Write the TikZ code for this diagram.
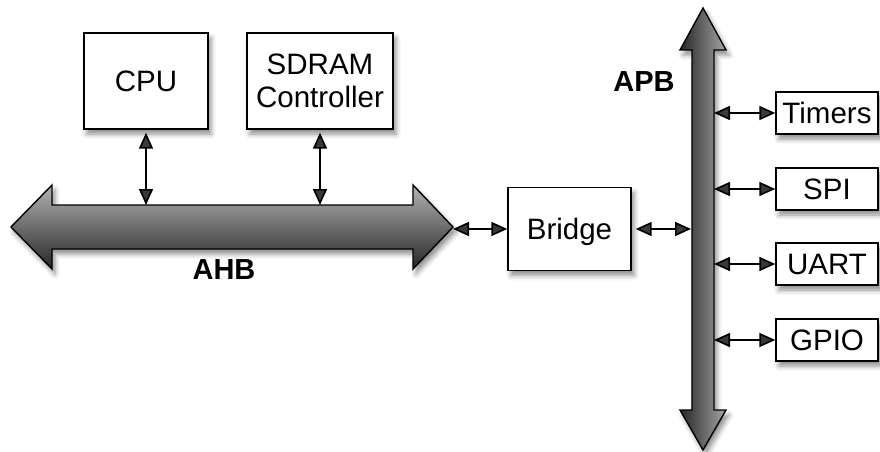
\documentclass[tikz,border=0pt]{standalone}
\usepackage{fontspec}
\setmainfont{Liberation Sans}
\usetikzlibrary{arrows.meta,shadows.blur}
\begin{document}
\begin{tikzpicture}[x=1pt,y=-1pt,
  softshadow/.style={blur shadow={shadow xshift=3pt, shadow yshift=-5pt,
      shadow blur radius=5pt, shadow opacity=45}},
  box/.style={draw, line width=1.4pt, fill=white, align=center, inner sep=0pt,
      font=\fontsize{29.5}{33}\selectfont, softshadow},
  periph/.style={box, minimum width=102pt, minimum height=42pt},
  conn/.style={line width=1.7pt,
      {Triangle[length=16pt,width=14pt]}-{Triangle[length=16pt,width=14pt]}},
  bus/.style={draw, line width=1.4pt, line join=miter, softshadow},
  buslabel/.style={font=\bfseries\fontsize{29}{33}\selectfont}]
\useasboundingbox (0,0) rectangle (880,452);

% AHB: horizontal double-headed bus
\path[bus, top color=black!30, bottom color=black!85]
  (11,227) -- (52,185) -- (52,205) -- (413,205) -- (413,185) -- (453,227)
  -- (413,269) -- (413,249) -- (52,249) -- (52,269) -- cycle;
% APB: vertical double-headed bus
\path[bus, left color=black!85, right color=black!35]
  (703,8) -- (726,50) -- (714,50) -- (714,410) -- (726,410) -- (703,450)
  -- (680,410) -- (692,410) -- (692,50) -- (680,50) -- cycle;

\node[buslabel] (ahblabel) at (224,270) {AHB};
\node[buslabel] (apblabel) at (644,82) {APB};

% masters / slaves on the AHB
\node[box, minimum width=124pt, minimum height=96pt] (cpu) at (146,81) {CPU};
\node[box, minimum width=146pt, minimum height=96pt] (sdram) at (320,81) {SDRAM\\Controller};
\node[box, minimum width=123pt, minimum height=83pt, text depth=0pt] (bridge) at (569.5,229) {Bridge};

% peripherals on the APB
\node[periph] (timers) at (827,113) {Timers};
\node[periph] (spi)    at (827,189) {SPI};
\node[periph] (uart)   at (827,264) {UART};
\node[periph] (gpio)   at (827,340) {GPIO};

% attachment points on the buses
\coordinate (cpubus)   at (146,205);
\coordinate (sdrambus) at (320,205);
\coordinate (ahbtip)   at (453,229);
\coordinate (apbin)    at (691,229);
\coordinate (apbt)     at (714,113);
\coordinate (apbs)     at (714,189);
\coordinate (apbu)     at (714,264);
\coordinate (apbg)     at (714,340);

\draw[conn, shorten <=3pt] (cpu.south) -- (cpubus);
\draw[conn, shorten <=3pt] (sdram.south) -- (sdrambus);
\draw[conn] (ahbtip) -- (bridge.west);
\draw[conn, shorten <=4pt] (bridge.east) -- (apbin);
\draw[conn] (apbt) -- (timers.west);
\draw[conn] (apbs) -- (spi.west);
\draw[conn] (apbu) -- (uart.west);
\draw[conn] (apbg) -- (gpio.west);
\end{tikzpicture}
\end{document}
